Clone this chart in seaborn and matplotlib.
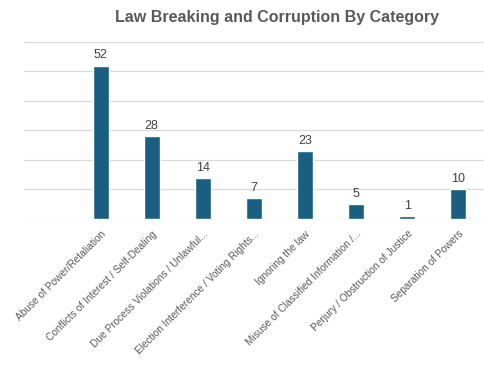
import numpy as np
import pandas as pd
import seaborn as sns
from matplotlib import pyplot as plt

categories = [
    "",
    "Abuse of Power/Retaliation",
    "Conflicts of Interest / Self-Dealing",
    "Due Process Violations / Unlawful...",
    "Election Interference / Voting Rights...",
    "Ignoring the law",
    "Misuse of Classified Information /...",
    "Perjury / Obstruction of Justice",
    "Separation of Powers",
]
counts = [np.nan, 52, 28, 14, 7, 23, 5, 1, 10]

df = pd.DataFrame({"category": categories, "count": counts})

sns.set_theme(style="white")
plt.rcParams["font.family"] = ["Liberation Sans", "DejaVu Sans"]

fig = plt.figure(figsize=(4.84, 3.65), dpi=100)
ax = fig.add_axes([0.0496, 0.4, 0.95, 0.485])

sns.barplot(data=df, x="category", y="count", color="#1a5e80", width=0.31,
            saturation=1, ax=ax)

ax.set_ylim(0, 60)
ax.set_yticks(np.arange(0, 61, 10))
ax.yaxis.grid(True, color="#d9d9d9", linewidth=0.9)
ax.set_axisbelow(True)
ax.set_yticklabels([])
ax.tick_params(axis="y", length=0)
ax.tick_params(axis="x", length=0, pad=7)
for s in ax.spines.values():
    s.set_visible(False)
ax.set_xlabel("")
ax.set_ylabel("")

ax.set_xticks(range(len(categories)))
ax.set_xticklabels(categories, rotation=45, ha="right", rotation_mode="anchor",
                   fontsize=7.3, color="#595959")

for c in ax.containers:
    labels = ["" if np.isnan(v) else f"{int(v)}" for v in c.datavalues]
    ax.bar_label(c, labels=labels, padding=3, fontsize=9, color="#404040")

fig.text(0.573, 0.953, "Law Breaking and Corruption By Category", ha="center",
         va="center", fontsize=11.5, fontweight="bold", color="#595959")

fig.savefig("out.png", dpi=100)
